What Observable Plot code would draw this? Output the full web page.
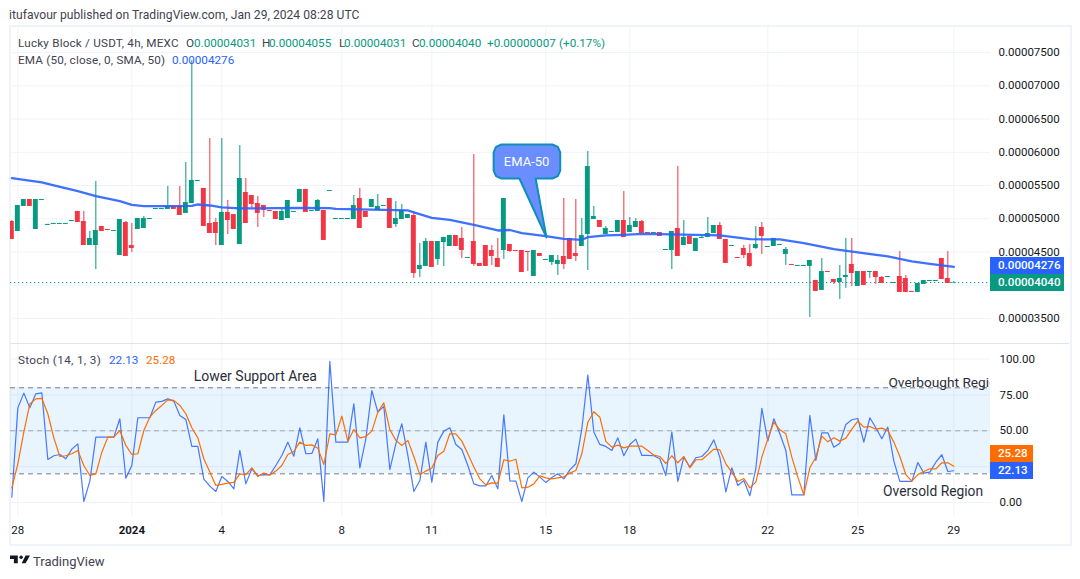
<!DOCTYPE html>
<html><head><meta charset="utf-8">
<script src="https://cdn.jsdelivr.net/npm/d3@7"></script>
<script src="https://cdn.jsdelivr.net/npm/@observablehq/plot@0.6"></script>
<style>
html,body{margin:0;padding:0;background:#fff;width:1080px;height:579px;overflow:hidden;font-family:Roboto,sans-serif;color:#131722}
#frame{position:absolute;left:9px;top:25px;width:1059px;height:517px;border:2px solid #f0f3fa;box-sizing:content-box}
#sep{position:absolute;left:10px;top:343px;width:1059px;height:1px;background:#e0e3eb}
.p{position:absolute;left:0}
.t{position:absolute;white-space:nowrap;font-size:11.7px;line-height:12px}
.tag{position:absolute;color:#fff;font-size:11.6px;font-weight:500;line-height:17px;box-sizing:border-box;padding-left:8px}
</style></head><body>
<div id="frame"></div>
<div id="price" class="p" style="top:27px"></div>
<div id="stoch" class="p" style="top:344px"></div>
<div id="sep"></div>
<div id="labels"></div>
<svg style="position:absolute;left:10px;top:553px" width="20" height="14" viewBox="0 6 36 16"><path d="M14 6H0v6h7v8h7V6Z" fill="#131722"/><circle cx="20" cy="9" r="3" fill="#131722"/><path d="M24 20h-7l7-14h8l-8 14Z" transform="translate(4 0)" fill="#131722"/></svg>
<div class="t" style="left:33px;top:554px;font-size:13px;line-height:15px;color:#3f4350">TradingView</div>
<script>
const opens=[4959,4809,5185,5290,4839,5275,4900,4915,4915,4915,4959,5110,4959,4598,4598,4884,4839,4809,4448,4944,
4598,4839,4854,4989,5140,5140,5140,5185,5185,5080,5230,5561,5456,4929,4944,4598,5095,5064,4613,5395,
5350,5230,5200,5125,5110,4974,5004,5095,5245,5441,5110,5110,5125,5410,4989,4989,4989,4989,5305,5110,
5170,5125,5185,5305,4914,4989,5004,5049,4237,4283,4658,4388,4643,4583,4749,4704,4403,4658,4328,4598,
4523,4403,4523,4613,4523,4523,4508,4132,4478,4373,4343,4313,4433,4704,4478,4583,4764,4989,4974,4764,
4794,4794,4974,4794,4869,4959,4794,4779,4794,4523,4523,4854,4598,4734,4508,4704,4719,4779,4899,4689,
4583,4418,4553,4478,4553,4869,4568,4583,4598,4463,4313,4283,4283,4283,4072,3922,4207,4087,4042,4117,
4313,3982,4207,4192,4207,4117,4117,4027,4132,4102,3907,3892,4012,4057,4057,4403,4102,4031];
const highs=[4974,5200,5290,5290,5290,5290,4915,4930,4930,4930,4974,5110,5110,4809,5561,4884,4839,4824,4989,4959,
4929,5004,5034,5004,5155,5155,5486,5185,5486,5847,7380,5576,5456,6207,5004,6207,5275,5064,6102,5606,
5350,5335,5200,5125,5110,5155,5275,5110,5441,5441,5125,5290,5125,5425,5004,5004,5004,5350,5456,5110,
5290,5365,5200,5305,5260,5215,5064,5110,4628,4704,4658,4658,4719,4749,4749,4869,4418,5967,4328,4598,
4598,4704,5305,4613,4523,4523,4508,4523,4478,4388,4448,4448,5305,4704,5290,5004,6012,5185,4974,4884,
4809,4974,5410,5019,5004,4974,4794,4794,4794,4538,4809,5786,4974,4764,4704,4749,5019,4899,4944,4689,
4598,4418,4598,4613,4884,4944,4583,4704,4613,4568,4313,4298,4298,4373,4072,4403,4207,4087,4298,4704,
4704,4207,4207,4207,4207,4132,4132,4042,4508,4147,3907,4027,4072,4072,4072,4403,4508,4055];
const lows=[4689,4809,5185,5185,4839,5275,4900,4915,4915,4915,4959,4944,4598,4598,4237,4809,4824,4809,4448,4433,
4493,4839,4854,4989,5140,5140,5140,5140,5049,5080,5230,5561,4884,4779,4598,4598,4764,4839,4613,4929,
5140,4869,5019,5110,4989,4974,5004,5095,5245,5095,5110,5110,4674,5410,4989,4989,4989,4989,4854,5019,
5170,5125,5185,4854,4869,4989,5004,4102,4117,4283,4268,4298,4283,4583,4583,4403,4403,4283,4283,4283,
4298,4268,4388,4493,4508,4192,4207,4132,4433,4373,4298,4147,4237,4388,4358,4583,4222,4989,4869,4764,
4794,4794,4719,4794,4869,4779,4779,4779,4734,4523,4237,4433,4598,4613,4508,4704,4719,4779,4689,4328,
4583,4403,4403,4268,4538,4463,4568,4583,4598,4298,4298,4283,4283,3515,3907,3922,4192,4012,3786,3952,
3982,3982,3997,4102,4012,4027,4117,4027,3892,3892,3892,3892,4012,4057,4057,4087,4027,4031];
const closes=[4689,5200,5290,5185,5290,5290,4915,4930,4930,4930,4974,4944,4598,4704,4824,4809,4824,4824,4989,4433,
4553,5004,5004,5004,5155,5155,5185,5140,5049,5245,5576,5576,4884,4779,4779,5095,4974,4839,5606,4929,
5215,5080,5125,5110,4989,5110,5275,5110,5441,5095,5125,5275,4674,5425,5004,5004,5004,5200,4854,5019,
5290,5185,5200,4854,5004,5125,5064,4177,4298,4658,4268,4658,4719,4749,4583,4523,4418,4313,4283,4283,
4433,4268,5305,4508,4508,4192,4493,4523,4433,4388,4448,4373,4313,4388,4433,4749,5786,5034,4869,4854,
4809,4974,4719,4899,4959,4779,4779,4794,4734,4538,4809,4433,4719,4613,4704,4719,4779,4899,4689,4328,
4598,4403,4448,4283,4613,4734,4583,4704,4613,4538,4298,4298,4298,4373,3907,4207,4192,4042,4102,4147,
4177,4207,3997,4207,4117,4027,4132,4042,3892,3892,3892,4027,4072,4072,4072,4087,4027,4040];

const emaBars=[0,5,7,11,14,18,20,22,26,30,31,33,35,38,44,48,53,54,62,66,67,70,73,77,81,83,85,89,92,95,96,99,102,105,108,118,123,128,132,137,141,146,150,153,157];
const emaVals=[5610,5546,5501,5415,5340,5265,5210,5189,5191,5195,5215,5200,5170,5155,5159,5165,5159,5150,5135,5125,5095,5015,4985,4910,4824,4831,4783,4738,4699,4684,4723,4749,4759,4774,4768,4749,4693,4689,4633,4543,4493,4433,4358,4323,4276];

const stochK=[3.7,66,76.3,66,75.8,76.5,30,32.6,33.5,30.5,37.2,40.9,0.7,14.9,45.6,45.6,45.6,45.6,58.4,17,
25.8,59.1,59.1,59.1,70,70.5,72.3,70.7,60.7,57.9,39.1,39.1,16.3,11.4,7.7,18.1,14.7,9.5,36.3,13,
23.5,18.8,19.5,19.3,25.8,32.8,42.1,32.3,52.1,34,34.2,44.4,0.7,98.4,42.1,42.1,42.1,68.8,24.2,44.4,
78.1,63,67,23,40.9,54.9,32.8,7.7,15.3,42.1,14.2,42.1,49.8,52.1,40.5,37,25.8,13,11.6,11.6,
18.8,9.5,61.2,15.1,14.9,0.7,17.2,21.2,17.7,14,17.4,20,16.5,22.8,27,51.4,88.8,49.1,40.5,39.1,
36.3,45.1,32.6,40.5,44.2,32.8,32.8,32.6,30.5,18.8,49.1,14.7,31.6,24.7,31.2,32.1,36.3,43.7,31.6,7.4,
24.2,11.9,15.3,4.7,23.5,65.6,42.8,58.4,47.9,36.3,5.3,5.3,5.3,60.7,29.3,48.6,48.6,38.6,41.4,54.4,
57.7,58.6,42.1,59.1,52.1,44.4,52.6,28.8,14.7,14.7,14.7,27.9,20.5,21.2,28.1,33.3,21.6,22.13];
const stochD=[10.2,27,49.1,68.8,72.3,72.6,61.9,45.1,32.1,32.6,34,36.3,25.8,18.8,20,35.1,45.6,45.6,50.2,39.8,
33.5,34,50.2,59.5,64.2,67.7,71.6,71.2,67.7,61.9,52.1,45.1,30.5,21.2,11.9,12.6,13.5,14,20,19.5,
24.2,18.1,20.5,19.1,21.9,25.8,33.5,35.6,42.1,39.8,40.2,37.9,26.5,47.9,47.2,60.2,42.6,50.9,45.1,46,
49.8,63,69.5,50.9,43.3,39.8,43.3,32.1,19.3,21.9,24,32.8,35.8,47.9,47.9,42.8,34,24.7,16.5,12.3,
13.7,13.3,29.8,28.8,30.2,10.2,10.7,13,18.6,17.2,16.5,17.2,17.9,20.5,22.3,34,56,63.3,59.5,42.6,
38.6,40,38.1,39.3,39.3,39.3,36.3,33,32.1,27.2,32.6,27.7,32.1,24.2,29.8,29.8,33.5,37.2,36.7,27,
21.2,14.7,16.7,10.2,14.2,31.6,44.4,56,50.7,47.9,31.6,17.7,5.3,24.2,31.6,46.3,42.3,45.1,42.8,44.9,
51.2,56.7,52.6,53,51.2,51.9,50.2,42.1,32.1,19.5,14.9,19.5,21.6,23.5,23.5,27.7,27.7,25.28];

const timeBars=[1,20,35,55,70,89,103,126,141,157];
const timeLabels=["28","2024","4","8","11","15","18","22","25","29"];
const priceGrid=[7500,7000,6500,6000,5500,5000,4500,4000,3500];
const priceLabels=[7500,7000,6500,6000,5500,5000,4500,3500];
const stochTicks=[100,75,50,25,0];
const stochLabels=[100,75,50,0];
const lastPrice=4040;

const up="#089981", down="#f23645", blue="#2962ff", orange="#ff6d00", grid="#f0f3fa";
const font="Roboto,sans-serif";
const xDomain=[-0.222,163.11];
const bars=opens.map((o,i)=>({i,o,h:highs[i],l:lows[i],c:closes[i]}));
const colorOf=d=>d.c>=d.o?up:down;

const bx=[81.6,90.1,91,91.4,91.4,91,90.1,87.3,89.1,84.6,81.6,80.7,80.3,80.3,80.7,81.6];
const bp=[6117,6117,6082,5999,5724,5641,5606,5606,4719,5606,5606,5641,5724,5999,6082,6117];
const bubble=bx.map((x,k)=>({x,p:bp[k]}));

const pricePlot=Plot.plot({
  width:1069,height:316,marginLeft:10,marginRight:79,marginTop:0,marginBottom:0,
  style:{fontFamily:font,background:"transparent",overflow:"visible"},
  x:{domain:xDomain,axis:null},
  y:{domain:[3124,7877],axis:null},
  marks:[
    Plot.gridY(priceGrid,{stroke:grid,strokeOpacity:1}),
    Plot.gridX(timeBars,{stroke:grid,strokeOpacity:1}),
    Plot.axisY(priceLabels,{anchor:"right",tickSize:0,tickPadding:8,label:null,fontSize:11.5,fill:"#131722",tickFormat:d=>(d*1e-8).toFixed(8)}),
    Plot.ruleY([lastPrice],{stroke:up,strokeWidth:1,strokeDasharray:"1.3,2.7"}),
    Plot.ruleX(bars,{x:"i",y1:"l",y2:"h",stroke:colorOf,strokeWidth:1,clip:true}),
    Plot.rect(bars,{x1:d=>d.i-0.41,x2:d=>d.i+0.41,y1:d=>Math.min(d.o,d.c),y2:d=>Math.max(d.o,d.c),fill:colorOf,clip:true}),
    Plot.line(emaBars.map((b,k)=>({b,v:emaVals[k]})),{x:"b",y:"v",stroke:blue,strokeWidth:2.3,curve:"linear",clip:true,strokeOpacity:.9}),
    Plot.line(bubble,{x:"x",y:"p",fill:"#6a8dff",stroke:"#0e8fb8",strokeWidth:2,curve:"linear"}),
    Plot.text(["EMA-50"],{x:85.8,y:5862,text:d=>d,fill:"#fff",fontSize:13})
  ]
});
document.getElementById("price").append(pricePlot);

const stochPlot=Plot.plot({
  width:1069,height:199,marginLeft:10,marginRight:79,marginTop:0,marginBottom:27,
  style:{fontFamily:font,background:"transparent",overflow:"visible"},
  x:{domain:xDomain,axis:null},
  y:{domain:[-9.77,110.2],axis:null},
  marks:[
    Plot.gridY(stochTicks,{stroke:grid,strokeOpacity:1}),
    Plot.gridX(timeBars,{stroke:grid,strokeOpacity:1}),
    Plot.rect([0],{x1:xDomain[0],x2:xDomain[1],y1:20,y2:80,fill:"#2196f3",fillOpacity:.1}),
    Plot.ruleY([80,20],{stroke:"#787b86",strokeDasharray:"5,4"}),
    Plot.ruleY([50],{stroke:"#a3a6af",strokeDasharray:"5,4"}),
    Plot.axisY(stochLabels,{anchor:"right",tickSize:0,tickPadding:9,label:null,fontSize:11.5,fill:"#131722",tickFormat:d=>d.toFixed(2)}),
    Plot.line(stochK,{x:(d,i)=>i,y:d=>d,stroke:blue,strokeWidth:1.2,strokeOpacity:.85,curve:"linear",clip:true}),
    Plot.line(stochD,{x:(d,i)=>i,y:d=>d,stroke:orange,strokeWidth:1.2,curve:"linear",clip:true}),
    Plot.text(["Lower Support Area"],{x:30.3,y:87.9,text:d=>d,textAnchor:"start",fontSize:14,fill:"#2a2e39",clip:true}),
    Plot.text(["Overbought Region"],{x:146.1,y:83.7,text:d=>d,textAnchor:"start",fontSize:13.7,fill:"#2a2e39",clip:true}),
    Plot.text(["Oversold Region"],{x:145.2,y:7.7,text:d=>d,textAnchor:"start",fontSize:13.8,fill:"#2a2e39",clip:true}),
    Plot.text(timeBars.filter((b,k)=>timeLabels[k]!=="2024"),{x:d=>d,frameAnchor:"bottom",lineAnchor:"middle",dy:14,text:d=>timeLabels[timeBars.indexOf(d)],fontSize:11.5,fill:"#131722"}),
    Plot.text(timeBars.filter((b,k)=>timeLabels[k]==="2024"),{x:d=>d,frameAnchor:"bottom",lineAnchor:"middle",dy:14,text:d=>timeLabels[timeBars.indexOf(d)],fontSize:11.5,fontWeight:"bold",fill:"#131722"})
  ]
});
document.getElementById("stoch").append(stochPlot);

const L=document.getElementById("labels");
const addText=(s,x,y,c,extra)=>{const e=document.createElement("div");e.className="t";e.textContent=s;e.style.cssText=`left:${x}px;top:${y}px;color:${c};${extra||""}`;L.append(e);};
const addTag=(s,x,y,w,c)=>{const e=document.createElement("div");e.className="tag";e.textContent=s;e.style.cssText=`left:${x}px;top:${y}px;width:${w}px;height:17px;background:${c}`;L.append(e);};
const dark="#3f4350";
const spaced="letter-spacing:.2px";
addText("itufavour published on TradingView.com, Jan 29, 2024 08:28 UTC",9,9,dark,"font-size:12.1px;letter-spacing:.03px");
addText("Lucky Block / USDT, 4h, MEXC",18,37,dark,spaced);
addText("O",186,37,dark);addText("0.00004031",194,37,up);
addText("H",262,37,dark);addText("0.00004055",269,37,up);
addText("L",339,37,dark);addText("0.00004031",344,37,up);
addText("C",412,37,dark);addText("0.00004040",419,37,up);
addText("+0.00000007",487,37,up);addText("(+0.17%)",559,37,up);
addText("EMA (50, close, 0, SMA, 50)",18,54,dark,spaced);addText("0.00004276",172,54,blue);
addText("Stoch (14, 1, 3)",18,354,dark,"letter-spacing:.35px");addText("22.13",109,354,blue);addText("25.28",146,354,orange);
addTag("0.00004276",990,257,74,blue);
addTag("0.00004040",990,274,74,up);
addTag("25.28",990,445,43,orange);
addTag("22.13",990,462,43,blue);
</script>
</body></html>
